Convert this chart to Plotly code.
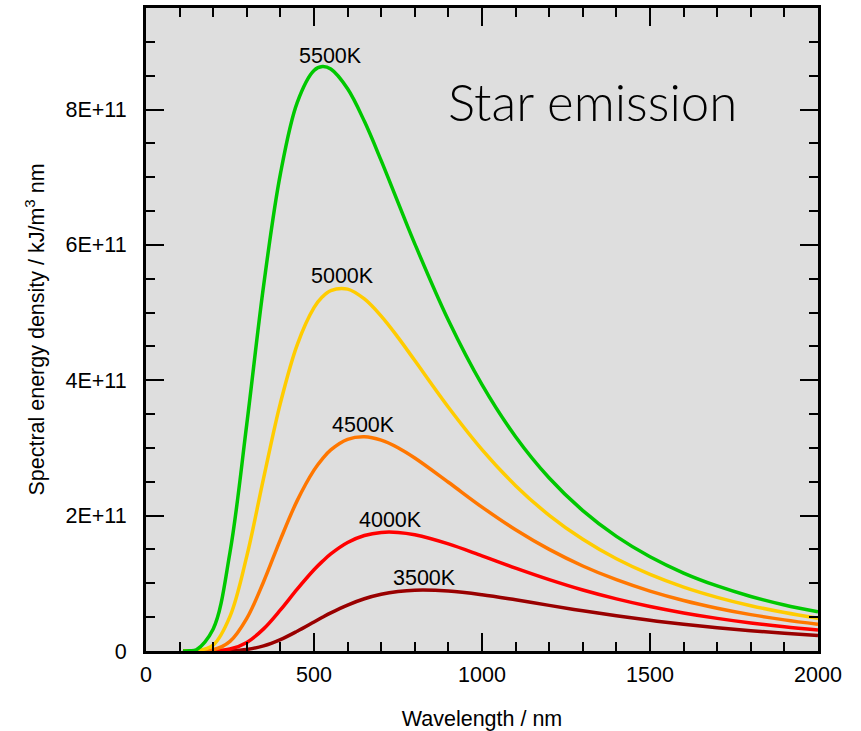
import plotly.graph_objects as go

# Wavelength grid (nm)
wavelength = [110, 130, 150, 200, 250, 300, 350, 400, 450, 500, 525, 550, 600, 650, 700, 750, 800,
              900, 1000, 1100, 1200, 1300, 1400, 1500, 1600, 1700, 1800, 1900, 2000]

# Spectral energy density, in units of 1E+11 kJ/m3 nm
t5500 = [0, 0.002, 0.018, 0.325, 1.459, 3.354, 5.397, 7.049, 8.103, 8.577, 8.635, 8.598, 8.306, 7.825, 7.245, 6.629, 6.016,
         4.886, 3.935, 3.166, 2.556, 2.074, 1.693, 1.392, 1.152, 0.961, 0.806, 0.680, 0.578]
t5000 = [0, 0.0, 0.003, 0.088, 0.512, 1.402, 2.554, 3.663, 4.524, 5.072, 5.233, 5.326, 5.347, 5.201, 4.948, 4.634, 4.291,
         3.601, 2.975, 2.443, 2.005, 1.650, 1.362, 1.131, 0.944, 0.793, 0.669, 0.568, 0.485]
t4500 = [0, 0.0, 0.0004, 0.018, 0.143, 0.483, 1.024, 1.646, 2.222, 2.672, 2.840, 2.971, 3.127, 3.165, 3.115, 3.003, 2.851,
         2.493, 2.126, 1.791, 1.501, 1.256, 1.053, 0.885, 0.746, 0.632, 0.537, 0.460, 0.395]
t4000 = [0, 0.0, 0.0, 0.0024, 0.029, 0.127, 0.327, 0.606, 0.914, 1.200, 1.324, 1.434, 1.603, 1.706, 1.752, 1.752, 1.717,
         1.582, 1.406, 1.224, 1.054, 0.901, 0.770, 0.657, 0.562, 0.482, 0.414, 0.357, 0.309]
t3500 = [0, 0.0, 0.0, 0.0002, 0.0037, 0.023, 0.075, 0.168, 0.292, 0.429, 0.4975, 0.563, 0.679, 0.772, 0.838, 0.879, 0.899,
         0.887, 0.832, 0.756, 0.674, 0.594, 0.520, 0.453, 0.395, 0.344, 0.300, 0.262, 0.229]

series_names = ["5500K", "5000K", "4500K", "4000K", "3500K"]
series_values = [t5500, t5000, t4500, t4000, t3500]
series_colors = ["#00c800", "#ffcc00", "#ff7700", "#ff0000", "#990000"]

# Label positions (wavelength nm, value E+11)
label_x = [550, 586, 648, 727, 830]
label_y = [8.79, 5.54, 3.34, 1.93, 1.075]

y_tickvals = [0, 2, 4, 6, 8]
y_ticktext = ["0", "2E+11", "4E+11", "6E+11", "8E+11"]
x_tickvals = [0, 500, 1000, 1500, 2000]
x_ticktext = ["0", "500", "1000", "1500", "2000"]

FONT = "Liberation Sans, Arial"
FS = 21.5

fig = go.Figure()
for name, vals, col in zip(series_names[::-1], series_values[::-1], series_colors[::-1]):
    fig.add_trace(go.Scatter(x=wavelength, y=vals, mode="lines", name=name,
                             line=dict(color=col, width=3.5, shape="spline", smoothing=1.0),
                             showlegend=False, hoverinfo="skip"))

for name, lx, ly in zip(series_names, label_x, label_y):
    fig.add_annotation(x=lx, y=ly, text=name, showarrow=False,
                       font=dict(family=FONT, size=FS, color="black"))

fig.add_annotation(x=1328, y=8.12, text="Star emission", showarrow=False,
                   font=dict(family="Lato", size=51, color="black", weight=300))

axis_common = dict(showline=True, linecolor="black", linewidth=3, mirror="allticks",
                   ticks="inside", ticklen=18, tickwidth=2, tickcolor="black",
                   showgrid=False, zeroline=False, automargin=False,
                   tickfont=dict(family=FONT, size=FS, color="black"),
                   title_font=dict(family=FONT, size=FS, color="black"))

fig.update_xaxes(range=[0, 2000], tickvals=x_tickvals, ticktext=x_ticktext,
                 minor=dict(dtick=100, ticks="inside", ticklen=9, tickwidth=2, tickcolor="black", showgrid=False),
                 ticklabelstandoff=2,
                 title_text="Wavelength / nm", title_standoff=32, **axis_common)
fig.update_yaxes(range=[0, 9.5], tickvals=y_tickvals, ticktext=y_ticktext,
                 minor=dict(dtick=0.5, ticks="inside", ticklen=9, tickwidth=2, tickcolor="black", showgrid=False),
                 ticklabelstandoff=12,
                 title_text="Spectral energy density / kJ/m<sup>3</sup> nm", title_standoff=15, **axis_common)

fig.update_layout(width=861, height=731, margin=dict(l=146, r=43, t=8, b=80),
                  plot_bgcolor="#dedede", paper_bgcolor="white")

fig.write_html("out.html")
